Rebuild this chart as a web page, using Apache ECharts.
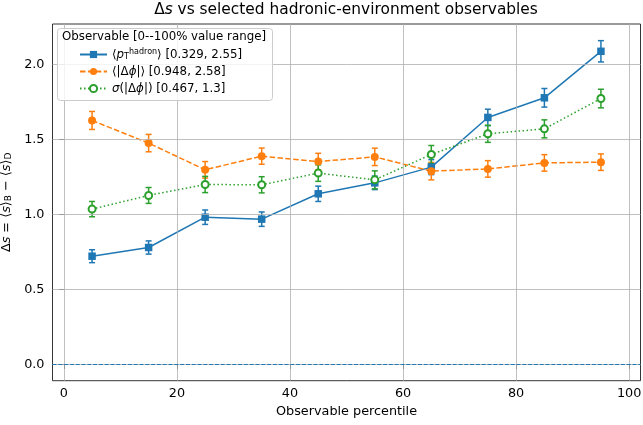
<!DOCTYPE html>
<html>
<head>
<meta charset="utf-8">
<script src="https://cdn.jsdelivr.net/npm/echarts@6/dist/echarts.min.js"></script>
<style>
	html, body { margin: 0; padding: 0; background: #fff; }
	#main { width: 643px; height: 425px; }
</style>
</head>
<body>
<div id="main"></div>
<script>
	// percentile bin centres
	const percentiles = [5, 15, 25, 35, 45, 55, 65, 75, 85, 95];

	// <pT hadron>
	const ptMean = [0.722, 0.780, 0.982, 0.969, 1.138, 1.211, 1.316, 1.647, 1.778, 2.088];
	const ptErr = [0.043, 0.044, 0.048, 0.048, 0.051, 0.045, 0.050, 0.055, 0.062, 0.071];

	// <|dphi|>
	const dphiMean = [1.627, 1.476, 1.298, 1.389, 1.353, 1.384, 1.289, 1.304, 1.344, 1.349];
	const dphiErr = [0.060, 0.058, 0.055, 0.054, 0.055, 0.058, 0.058, 0.055, 0.055, 0.055];

	// sigma(|dphi|)
	const sigmaMean = [1.036, 1.127, 1.200, 1.198, 1.276, 1.231, 1.400, 1.538, 1.571, 1.773];
	const sigmaErr = [0.051, 0.053, 0.054, 0.054, 0.055, 0.060, 0.060, 0.057, 0.060, 0.062];

	const xTicks = [0, 20, 40, 60, 80, 100];
	const yTicks = [0, 0.5, 1.0, 1.5, 2.0];

	const names = ['pt', 'dphi', 'sigma'];
	const legendText = {
		pt: '⟨{i|p}{sub|T}{sup|hadron}⟩ [0.329, 2.55]',
		dphi: '⟨|Δ{i|ϕ}|⟩ [0.948, 2.58]',
		sigma: '{i|σ}(|Δ{i|ϕ}|) [0.467, 1.3]'
	};

	const blue = '#1f77b4', orange = '#ff7f0e', green = '#2ca02c';
	const font = 'DejaVu Sans';
	const fs = 12.8;

	var chart = echarts.init(document.getElementById('main'));

	function pairs(ys) {
		return percentiles.map(function(x, i) { return [x, ys[i]]; });
	}
	function errData(ys, es) {
		return percentiles.map(function(x, i) { return [x, ys[i], es[i]]; });
	}

	// vertical error bar with caps
	function errorBar(color) {
		return function(params, api) {
			var x = api.value(0), y = api.value(1), e = api.value(2);
			var hi = api.coord([x, y + e]);
			var lo = api.coord([x, y - e]);
			var cap = 3;
			var style = { stroke: color, lineWidth: 1.5 };
			return {
				type: 'group',
				children: [
					{ type: 'line', shape: { x1: hi[0], y1: hi[1], x2: lo[0], y2: lo[1] }, style: style },
					{ type: 'line', shape: { x1: hi[0] - cap, y1: hi[1], x2: hi[0] + cap, y2: hi[1] }, style: style },
					{ type: 'line', shape: { x1: lo[0] - cap, y1: lo[1], x2: lo[0] + cap, y2: lo[1] }, style: style }
				]
			};
		};
	}

	const legendFs = 11.8;
	const sub = { fontSize: 8, verticalAlign: 'bottom', fontFamily: font, color: '#000' };
	const sup = { fontSize: 8, verticalAlign: 'top', fontFamily: font, color: '#000' };
	const ital = { fontStyle: 'italic', fontFamily: font, fontSize: legendFs, color: '#000' };

	option = {
		backgroundColor: '#fff',
		animation: false,
		title: {
			text: 'Δ{i|s} vs selected hadronic-environment observables',
			left: 346,
			textAlign: 'center',
			top: 2,
			padding: 0,
			textStyle: {
				fontFamily: font,
				fontSize: 15.4,
				fontWeight: 'normal',
				color: '#000',
				rich: { i: { fontStyle: 'italic', fontFamily: font, fontSize: 15.4, color: '#000' } }
			}
		},
		grid: {
			left: 52.5,
			right: 2.5,
			top: 24,
			bottom: 44.3,
			outerBoundsMode: 'none',
			containLabel: false,
			show: true,
			borderColor: '#000',
			borderWidth: 0.8
		},
		legend: {
			data: names,
			orient: 'vertical',
			left: 57,
			top: 28,
			z: 60,
			padding: [20, 8, 5, 22],
			itemGap: 4,
			itemWidth: 27,
			itemHeight: 9,
			formatter: function(name) { return legendText[name]; },
			textStyle: {
				fontFamily: font,
				fontSize: legendFs,
				color: '#000',
				lineHeight: 13,
				rich: { i: ital, sub: sub, sup: sup }
			}
		},
		graphic: [{
			type: 'rect',
			z: 50,
			shape: { x: 57.5, y: 28.5, width: 215, height: 72, r: 3 },
			style: { fill: 'rgba(255,255,255,0.8)', stroke: '#cccccc', lineWidth: 1 }
		}, {
			type: 'text',
			left: 62,
			top: 31,
			z: 60,
			style: {
				text: 'Observable [0--100% value range]',
				font: legendFs + 'px "DejaVu Sans"',
				fill: '#000'
			}
		}],
		xAxis: {
			type: 'value',
			min: -2,
			max: 102,
			name: 'Observable percentile',
			nameLocation: 'middle',
			nameGap: 24,
			nameTextStyle: { fontFamily: font, fontSize: fs, color: '#000' },
			axisLine: { show: false },
			axisTick: { show: true, length: 4.5, inside: false, customValues: xTicks, lineStyle: { color: '#000', width: 0.8 } },
			axisLabel: { customValues: xTicks, fontFamily: font, fontSize: fs, color: '#000', margin: 6 },
			splitLine: { show: false }
		},
		yAxis: {
			type: 'value',
			min: -0.108,
			max: 2.27,
			name: 'Δ{i|s} = ⟨{i|s}⟩{sub|B} − ⟨{i|s}⟩{sub|D}',
			nameLocation: 'middle',
			nameGap: 35,
			nameRotate: 90,
			nameTextStyle: {
				fontFamily: font,
				fontSize: fs,
				color: '#000',
				rich: {
					i: { fontStyle: 'italic', fontFamily: font, fontSize: fs, color: '#000' },
					sub: { fontSize: 9, fontFamily: font, verticalAlign: 'bottom', color: '#000' }
				}
			},
			axisLine: { show: false },
			axisTick: { show: true, length: 4.5, customValues: yTicks, lineStyle: { color: '#000', width: 0.8 } },
			axisLabel: {
				customValues: yTicks,
				fontFamily: font,
				fontSize: fs,
				color: '#000',
				margin: 8,
				formatter: function(v) { return v.toFixed(1); }
			},
			splitLine: { show: false }
		},
		series: [
			// grid lines
			{
				type: 'line',
				name: 'grid',
				data: [],
				silent: true,
				z: 0,
				markLine: {
					silent: true,
					symbol: 'none',
					label: { show: false },
					lineStyle: { color: '#b0b0b0', width: 0.8, type: 'solid' },
					data: xTicks.map(function(v) { return { xAxis: v }; })
						.concat(yTicks.map(function(v) { return { yAxis: v }; }))
				}
			},
			// zero line
			{
				type: 'line',
				name: 'zero',
				data: [],
				silent: true,
				z: 1,
				markLine: {
					silent: true,
					symbol: 'none',
					label: { show: false },
					lineStyle: { color: blue, width: 1, type: [4, 1.8] },
					data: [{ yAxis: 0 }]
				}
			},
			{
				type: 'custom',
				name: 'ptErr',
				renderItem: errorBar(blue),
				data: errData(ptMean, ptErr),
				z: 3
			},
			{
				type: 'custom',
				name: 'dphiErr',
				renderItem: errorBar(orange),
				data: errData(dphiMean, dphiErr),
				z: 3
			},
			{
				type: 'custom',
				name: 'sigmaErr',
				renderItem: errorBar(green),
				data: errData(sigmaMean, sigmaErr),
				z: 3
			},
			{
				name: 'pt',
				type: 'line',
				data: pairs(ptMean),
				symbol: 'rect',
				symbolSize: 7.5,
				color: blue,
				lineStyle: { color: blue, width: 1.5, type: 'solid' },
				itemStyle: { color: blue },
				z: 4
			},
			{
				name: 'dphi',
				type: 'line',
				data: pairs(dphiMean),
				symbol: 'circle',
				symbolSize: 8,
				color: orange,
				lineStyle: { color: orange, width: 1.5, type: [5.5, 2.4] },
				itemStyle: { color: orange },
				z: 4
			},
			{
				name: 'sigma',
				type: 'line',
				data: pairs(sigmaMean),
				symbol: 'emptyCircle',
				symbolSize: 7,
				color: green,
				lineStyle: { color: green, width: 1.5, type: [1.5, 2.5] },
				itemStyle: { color: green, borderColor: green, borderWidth: 1.1 },
				z: 4
			}
		]
	};

	chart.setOption(option);

	window.onresize = function() {
		chart.resize();
	}
</script>
</body>
</html>
